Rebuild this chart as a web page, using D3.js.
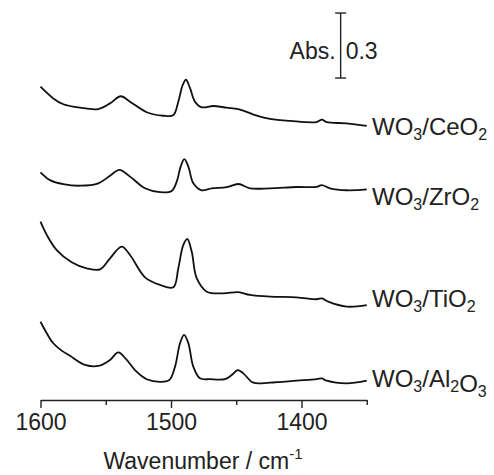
<!DOCTYPE html>
<html>
<head>
    <title>IR spectra</title>
    <meta charset="utf-8" />
    <script type="text/javascript" src="https://cdn.jsdelivr.net/npm/d3@7"></script>
    <style>
        body { margin: 0; background: #fff; }
        text { font-family: "Liberation Sans", Arial, sans-serif; fill: #222; }
    </style>
</head>
<body>
    <script type="text/javascript">

        //Width and height
        var w = 494;
        var h = 475;

        //Data (wavenumber in cm-1, absorbance before stacking offset)
        var samples = ["CeO2", "ZrO2", "TiO2", "Al2O3"];
        var offsets = [1.2, 0.9, 0.4, 0];

        var wnCeO2 = [1600, 1590.2, 1582.5, 1569.7, 1555.7, 1546.7, 1538.5, 1531.4, 1518.6, 1505.9,
                      1498.2, 1494.4, 1491.0, 1488.5, 1485.4, 1481.6, 1476.5, 1467.6, 1457.3, 1448.4,
                      1434.3, 1424.1, 1408.8, 1388.3, 1384.3, 1380.7, 1365.4, 1350];
        var absCeO2 = [0.246, 0.192, 0.165, 0.149, 0.143, 0.169, 0.202, 0.177, 0.128, 0.112,
                       0.115, 0.177, 0.254, 0.278, 0.239, 0.177, 0.151, 0.157, 0.149, 0.143,
                       0.112, 0.097, 0.088, 0.083, 0.094, 0.082, 0.077, 0.065];

        var wnZrO2 = [1600, 1592.7, 1582.5, 1569.7, 1555.7, 1546.7, 1539.6, 1531.4, 1519.9, 1508.4,
                      1499.5, 1495.6, 1492.6, 1489.8, 1486.7, 1482.9, 1476.5, 1468.8, 1457.3, 1448.4,
                      1439.5, 1424.1, 1403.7, 1388.3, 1384.5, 1378.2, 1365.4, 1350];
        var absZrO2 = [0.151, 0.115, 0.096, 0.089, 0.100, 0.135, 0.162, 0.131, 0.077, 0.059,
                       0.065, 0.108, 0.177, 0.212, 0.177, 0.100, 0.068, 0.077, 0.082, 0.097,
                       0.077, 0.077, 0.083, 0.084, 0.092, 0.077, 0.068, 0.072];

        var wnTiO2 = [1600, 1595.2, 1587.6, 1576.1, 1564.6, 1554.4, 1546.7, 1537.8, 1531.4, 1519.9,
                      1508.4, 1498.2, 1494.4, 1490.6, 1487.5, 1484.1, 1480.3, 1472.6, 1459.9, 1448.4,
                      1439.5, 1424.1, 1403.7, 1388.3, 1384.3, 1379.5, 1365.4, 1350];
        var absTiO2 = [0.423, 0.362, 0.292, 0.236, 0.208, 0.203, 0.254, 0.308, 0.269, 0.166,
                       0.131, 0.120, 0.208, 0.315, 0.343, 0.284, 0.162, 0.100, 0.092, 0.098,
                       0.085, 0.077, 0.074, 0.065, 0.069, 0.054, 0.031, 0.038];

        var wnAl2O3 = [1600, 1595.2, 1590.2, 1583.8, 1577.4, 1565.9, 1555.7, 1546.7, 1540.4, 1533.9,
                       1527.6, 1518.6, 1508.4, 1501.3, 1496.9, 1493.1, 1490.0, 1486.7, 1482.9, 1477.8,
                       1470.1, 1458.6, 1453.5, 1448.9, 1444.6, 1436.9, 1424.1, 1403.7, 1388.3, 1384.5,
                       1380.7, 1365.4, 1350];
        var absAl2O3 = [0.361, 0.308, 0.262, 0.228, 0.204, 0.162, 0.157, 0.185, 0.220, 0.185,
                        0.138, 0.096, 0.084, 0.092, 0.154, 0.262, 0.301, 0.262, 0.154, 0.100,
                        0.096, 0.096, 0.115, 0.138, 0.123, 0.080, 0.080, 0.089, 0.096, 0.100,
                        0.089, 0.077, 0.089];

        var wnList = [wnCeO2, wnZrO2, wnTiO2, wnAl2O3];
        var absList = [absCeO2, absZrO2, absTiO2, absAl2O3];

        var majorTicks = [1600, 1500, 1400];
        var minorTicks = [1550, 1450, 1350];

        var scaleBarWn = 1370;
        var scaleBarBase = 1.486;
        var scaleBarSize = 0.3;

        //label baselines (px)
        var labelY = [135, 205, 307, 387];

        //Scales
        var xScale = d3.scaleLinear()
            .domain([1600, 1350])
            .range([40.5, 366.75]);

        var yScale = d3.scaleLinear()
            .domain([0, 1.8])
            .range([400, 10]);

        //Create SVG element
        var svg = d3.select("body")
            .append("svg")
            .attr("width", w)
            .attr("height", h);

        //Spectra
        var line = d3.line()
            .x(function (d) { return xScale(d[0]); })
            .y(function (d) { return yScale(d[1]); })
            .curve(d3.curveCatmullRom.alpha(0.5));

        samples.forEach(function (s, i) {
            var pts = wnList[i].map(function (wn, j) {
                return [wn, absList[i][j] + offsets[i]];
            });
            svg.append("path")
                .datum(pts)
                .attr("d", line)
                .attr("fill", "none")
                .attr("stroke", "#111")
                .attr("stroke-width", 1.8)
                .attr("stroke-linejoin", "round");

            //label WO3/XXX
            var t = svg.append("text")
                .attr("x", 372)
                .attr("y", labelY[i])
                .attr("font-size", "24px");
            t.append("tspan").text("WO");
            t.append("tspan").attr("font-size", "16px").attr("dy", 5).text("3");
            var support = s.match(/[A-Z][a-z]?\d?/g);
            t.append("tspan").attr("dy", -5).text("/");
            support.forEach(function (el) {
                var m = el.match(/([A-Za-z]+)(\d?)/);
                t.append("tspan").text(m[1]);
                if (m[2]) {
                    t.append("tspan").attr("font-size", "16px").attr("dy", 5).text(m[2]);
                    t.append("tspan").attr("dy", -5).text("");
                }
            });
        });

        //X axis (major)
        var xAxis = d3.axisBottom(xScale)
            .tickValues(majorTicks)
            .tickSize(8)
            .tickSizeOuter(0)
            .tickPadding(6)
            .tickFormat(d3.format("d"));

        var gx = svg.append("g")
            .attr("transform", "translate(0,400)")
            .call(xAxis);
        gx.selectAll("text").attr("font-size", "23px").attr("fill", "#222").attr("font-family", null);
        gx.selectAll("line").attr("stroke", "#222").attr("stroke-width", 1.4);
        gx.select(".domain").attr("stroke", "#222").attr("stroke-width", 1.4);

        //minor ticks
        svg.append("g")
            .attr("transform", "translate(0,400)")
            .call(d3.axisBottom(xScale).tickValues(minorTicks).tickSize(5).tickSizeOuter(0).tickFormat(""))
            .call(function (g) { g.select(".domain").remove(); })
            .selectAll("line").attr("stroke", "#222").attr("stroke-width", 1.4);

        //Axis title
        var xt = svg.append("text")
            .attr("x", 203)
            .attr("y", 469)
            .attr("text-anchor", "middle")
            .attr("font-size", "23px");
        xt.append("tspan").text("Wavenumber / cm");
        xt.append("tspan").attr("font-size", "15px").attr("dy", -10).text("-1");

        //Scale bar
        var sx = xScale(scaleBarWn);
        var sTop = yScale(scaleBarBase + scaleBarSize);
        var sBot = yScale(scaleBarBase);
        svg.append("line")
            .attr("x1", sx).attr("x2", sx).attr("y1", sTop).attr("y2", sBot)
            .attr("stroke", "#222").attr("stroke-width", 1.4);
        [sTop, sBot].forEach(function (yy) {
            svg.append("line")
                .attr("x1", sx - 5.5).attr("x2", sx + 5.5).attr("y1", yy).attr("y2", yy)
                .attr("stroke", "#222").attr("stroke-width", 1.4);
        });
        svg.append("text")
            .attr("x", sx - 5)
            .attr("y", 59)
            .attr("text-anchor", "end")
            .attr("font-size", "23px")
            .text("Abs.");
        svg.append("text")
            .attr("x", sx + 5)
            .attr("y", 59)
            .attr("font-size", "23px")
            .text("0.3");

    </script>
</body>
</html>
